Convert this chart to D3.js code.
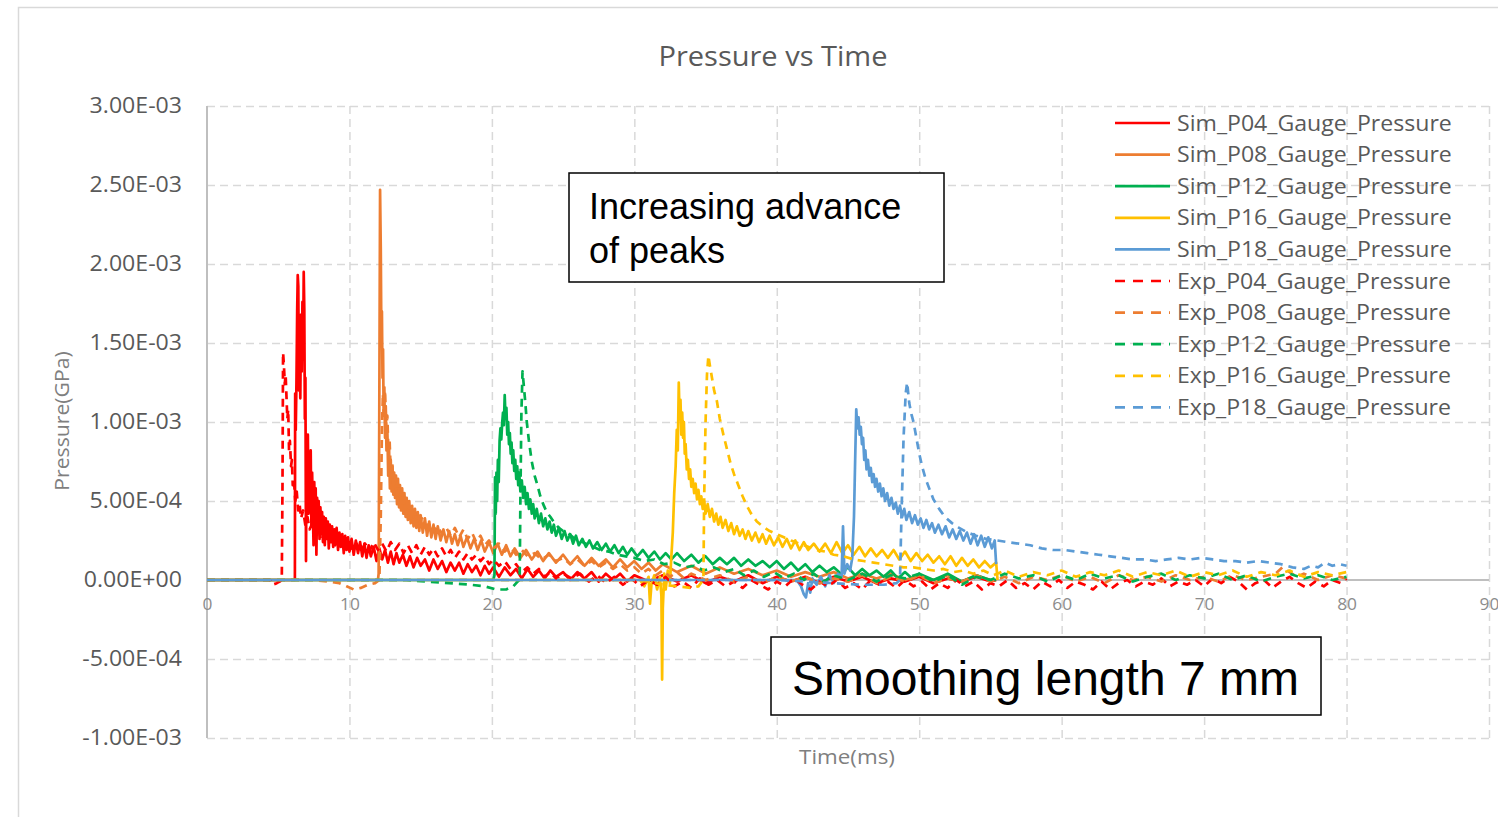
<!DOCTYPE html>
<html><head><meta charset="utf-8">
<script src="https://cdn.jsdelivr.net/npm/d3@7"></script>
<style>body{margin:0;background:#fff;overflow:hidden}svg{display:block}</style>
</head><body>
<svg id="chart" width="1498" height="817"></svg>
<script>
// ---------- DATA (time in ms, pressure in units of 1e-4 GPa) ----------
const VALUE_UNIT = 1e-4;
const xTickValues = [0,10,20,30,40,50,60,70,80,90];
const xTickLabels = ["0","10","20","30","40","50","60","70","80","90"];
const yTickValues = [-1e-3,-5e-4,0,5e-4,1e-3,1.5e-3,2e-3,2.5e-3,3e-3];
const yTickLabels = ["-1.00E-03","-5.00E-04","0.00E+00","5.00E-04","1.00E-03","1.50E-03","2.00E-03","2.50E-03","3.00E-03"];
const seriesNames = ["Sim_P04_Gauge_Pressure","Sim_P08_Gauge_Pressure","Sim_P12_Gauge_Pressure","Sim_P16_Gauge_Pressure","Sim_P18_Gauge_Pressure",
  "Exp_P04_Gauge_Pressure","Exp_P08_Gauge_Pressure","Exp_P12_Gauge_Pressure","Exp_P16_Gauge_Pressure","Exp_P18_Gauge_Pressure"];

const simP04 = [[0,0],[6.1,0],[6.17,0],[6.19,11.8],[6.23,9.5],[6.28,12.5],[6.33,17.0],[6.37,19.3],[6.41,18.6],[6.45,12.0],[6.5,15.5],[6.55,11.5],[6.6,16.8],[6.65,13.2],[6.7,17.6],[6.75,14.5],[6.79,19.5],[6.83,17.2],[6.87,10.2],[6.91,12.8],[6.95,1.2],[6.99,8.8],[7.03,6.0],[7.08,9.2],[7.13,4.2],[7.18,7.6],[7.23,5.0],[7.28,8.2],[7.33,3.4],[7.38,6.8],[7.43,4.4],[7.48,2.2],[7.53,6.2],[7.58,4.0],[7.63,5.8],[7.68,1.6],[7.73,5.2],[7.78,3.2],[7.84,5.0],[7.9,2.6],[7.96,4.6],[8.02,2.9],[8.08,4.3],[8.14,2.4],[8.2,4.0],[8.27,2.2],[8.34,3.9],[8.41,2.6],[8.48,3.7],[8.55,2.0],[8.62,3.5],[8.7,2.4],[8.78,3.4],[8.86,2.1],[8.94,3.2],[9.02,2.3],[9.1,3.3],[9.2,1.9],[9.3,3.0],[9.4,2.1],[9.5,2.9],[9.6,1.7],[9.7,2.8],[9.8,1.9],[9.9,2.7],[10.0,1.8],[10.15,2.6],[10.3,1.6],[10.45,2.5],[10.6,1.7],[10.75,2.4],[10.9,1.5],[11.05,2.3],[11.2,1.4],[11.35,2.2],[11.5,1.5],[11.7,2.1],[11.9,1.2],[12.1,2.0],[12.3,1.3],[12.5,1.9],[12.7,1.1],[12.9,1.8],[13.1,1.0],[13.3,1.7],[13.5,1.1],[13.75,1.6],[14.0,0.9],[14.25,1.5],[14.5,0.8],[14.75,1.4],[15.0,0.9],[15.3,1.3],[15.6,0.6],[15.9,1.3],[16.2,0.7],[16.5,1.2],[16.8,0.5],[17.1,1.1],[17.4,0.6],[17.7,1.1],[18.0,0.4],[18.3,1.0],[18.6,0.5],[18.9,0.9],[19.2,0.3],[19.5,0.9],[19.8,0.4],[20.1,0.8],[20.5,0.2],[20.9,0.8],[21.3,0.3],[21.7,0.7],[22.1,0.1],[22.5,0.7],[22.9,0.2],[23.3,0.6],[23.7,0.1],[24.1,0.6],[24.5,0.2],[25,0.5],[25.5,0.0],[26,0.5],[26.5,0.1],[27,0.5],[27.5,-0.1],[28,0.4],[28.5,0.0],[29,0.4],[29.5,-0.1],[30,0.3],[31,-0.1],[32,0.3],[33,-0.1],[34,0.3],[35,-0.2],[36,0.2],[37,-0.1],[38,0.3],[39,-0.2],[40,0.2],[41,-0.1],[42,0.2],[43,-0.2],[44,0.2],[45,-0.1],[46,0.2],[47,-0.2],[48,0.1],[49,-0.1],[50,0.2],[51,-0.2],[52,0.1],[53,-0.1],[54,0.2],[55,-0.1],[55.4,0]];

const simP08 = [[0,0],[12.0,0],[12.05,0.4],[12.1,12],[12.15,24.7],[12.2,21.0],[12.24,15.5],[12.28,17.0],[12.32,12.8],[12.36,14.6],[12.4,10.5],[12.45,12.2],[12.5,9.0],[12.55,11.0],[12.6,8.2],[12.66,9.6],[12.72,6.6],[12.78,8.4],[12.84,5.8],[12.9,7.6],[12.96,5.6],[13.02,7.2],[13.08,5.4],[13.14,6.8],[13.2,5.2],[13.27,6.6],[13.34,4.8],[13.41,6.4],[13.48,4.6],[13.55,6.0],[13.62,4.4],[13.7,5.8],[13.78,4.2],[13.86,5.5],[13.94,4.0],[14.02,5.2],[14.1,3.8],[14.2,5.0],[14.3,3.6],[14.4,4.7],[14.5,3.4],[14.6,4.5],[14.7,3.3],[14.8,4.3],[14.9,3.1],[15.0,4.1],[15.15,3.0],[15.3,3.9],[15.45,2.8],[15.6,3.7],[15.75,2.7],[15.9,3.5],[16.05,2.6],[16.2,3.4],[16.4,2.5],[16.6,3.2],[16.8,2.4],[17.0,3.1],[17.2,2.3],[17.4,2.9],[17.6,2.2],[17.8,2.8],[18.0,2.1],[18.25,2.7],[18.5,2.0],[18.75,2.6],[19.0,1.9],[19.25,2.5],[19.5,1.8],[19.8,2.4],[20.1,1.7],[20.4,2.3],[20.7,1.6],[21.0,2.2],[21.3,1.5],[21.6,2.0],[22.0,1.4],[22.4,1.9],[22.8,1.3],[23.2,1.8],[23.6,1.2],[24.0,1.7],[24.5,1.1],[25,1.6],[25.5,1.0],[26,1.5],[26.5,0.9],[27,1.4],[27.5,0.9],[28,1.3],[28.5,0.8],[29,1.3],[29.5,0.8],[30,1.2],[30.5,0.7],[31,1.1],[31.5,0.6],[32,1.0],[33,0.5],[34,0.9],[35,0.4],[36,0.8],[37,0.4],[38,0.7],[39,0.3],[40,0.6],[41,0.2],[42,0.5],[43,0.2],[44,0.5],[45,0.1],[46,0.4],[47,0.1],[48,0.4],[49,0.0],[50,0.3],[51,0.0],[52,0.3],[53,-0.1],[54,0.3],[55,0.0],[55.4,0]];

const simP12 = [[0,0],[20.1,0],[20.18,0.3],[20.22,6.5],[20.27,4.2],[20.32,6.8],[20.37,5.0],[20.42,7.6],[20.48,6.2],[20.54,8.8],[20.6,9.6],[20.66,8.9],[20.72,9.9],[20.78,10.6],[20.84,9.8],[20.9,11.7],[20.96,10.2],[21.02,10.9],[21.08,9.2],[21.14,10.0],[21.2,8.6],[21.26,9.3],[21.32,8.0],[21.38,8.7],[21.44,7.4],[21.5,8.2],[21.57,6.9],[21.64,7.6],[21.71,6.4],[21.78,7.2],[21.85,6.0],[21.92,6.8],[22.0,5.6],[22.1,6.3],[22.2,5.2],[22.3,5.9],[22.4,4.8],[22.5,5.5],[22.6,4.5],[22.7,5.1],[22.8,4.2],[22.9,4.8],[23.0,3.9],[23.15,4.5],[23.3,3.6],[23.45,4.2],[23.6,3.4],[23.75,3.9],[23.9,3.2],[24.05,3.7],[24.2,3.0],[24.35,3.5],[24.5,2.8],[24.7,3.3],[24.9,2.6],[25.1,3.1],[25.3,2.5],[25.5,2.9],[25.7,2.3],[25.9,2.8],[26.1,2.2],[26.35,2.6],[26.6,2.1],[26.85,2.5],[27.1,2.0],[27.4,2.4],[27.7,1.9],[28.0,2.3],[28.3,1.8],[28.6,2.2],[28.9,1.7],[29.2,2.1],[29.5,1.6],[29.8,2.0],[30.2,1.5],[30.6,1.9],[31.0,1.4],[31.4,1.8],[31.8,1.3],[32.2,1.7],[32.6,1.3],[33.0,1.7],[33.5,1.2],[34.0,1.6],[34.5,1.1],[35.0,1.5],[35.5,1.0],[36.0,1.4],[36.5,1.0],[37.0,1.4],[37.5,0.9],[38.0,1.3],[38.5,0.9],[39.0,1.2],[39.5,0.8],[40,1.2],[40.5,0.7],[41,1.1],[41.5,0.6],[42,1.0],[42.5,0.5],[43,0.9],[43.5,0.5],[44,0.8],[44.5,0.4],[45,0.8],[45.5,0.3],[46,0.7],[46.5,0.3],[47,0.6],[47.5,0.2],[48,0.6],[48.5,0.1],[49,0.5],[49.5,0.1],[50,0.4],[51,0.0],[52,0.4],[53,-0.1],[54,0.3],[55,0.0],[55.4,0]];

const simP16 = [[0,0],[30.4,0],[30.7,-0.4],[31.0,0.2],[31.1,-1.5],[31.2,-0.3],[31.4,0.3],[31.6,-0.6],[31.8,0.2],[31.9,-1.0],[31.95,-6.3],[32.0,-1.8],[32.1,0.4],[32.2,-0.6],[32.35,0.6],[32.5,-0.2],[32.6,1.5],[32.7,3.0],[32.8,5.5],[32.9,7.2],[32.98,9.5],[33.05,8.2],[33.12,12.5],[33.18,10.2],[33.24,11.4],[33.3,9.2],[33.36,10.6],[33.42,9.0],[33.48,10.0],[33.54,8.0],[33.6,8.6],[33.68,7.0],[33.76,7.6],[33.84,6.4],[33.92,7.0],[34.0,5.9],[34.1,6.4],[34.2,5.5],[34.3,6.1],[34.4,5.1],[34.5,5.7],[34.6,4.8],[34.7,5.3],[34.8,4.5],[34.9,5.0],[35.0,4.2],[35.15,4.8],[35.3,4.0],[35.45,4.5],[35.6,3.7],[35.75,4.2],[35.9,3.5],[36.05,4.0],[36.2,3.3],[36.4,3.8],[36.6,3.1],[36.8,3.6],[37.0,2.9],[37.2,3.4],[37.4,2.8],[37.6,3.2],[37.8,2.6],[38.0,3.1],[38.25,2.5],[38.5,3.0],[38.75,2.4],[39.0,2.9],[39.25,2.3],[39.5,2.8],[39.8,2.2],[40.1,2.7],[40.4,2.1],[40.7,2.6],[41.0,2.0],[41.3,2.5],[41.6,1.9],[41.9,2.4],[42.2,1.9],[42.6,2.3],[43.0,1.8],[43.4,2.3],[43.8,1.7],[44.2,2.4],[44.6,1.7],[45.0,2.2],[45.4,1.6],[45.8,2.1],[46.2,1.5],[46.6,2.0],[47.0,1.5],[47.4,1.9],[47.8,1.4],[48.2,1.9],[48.6,1.3],[49.0,1.8],[49.4,1.2],[49.8,1.7],[50.2,1.2],[50.6,1.6],[51.0,1.1],[51.4,1.5],[51.8,1.0],[52.2,1.5],[52.6,0.9],[53.0,1.4],[53.4,0.9],[53.8,1.3],[54.2,0.8],[54.6,1.2],[55.0,0.8],[55.4,1.1],[55.5,0]];

const simP18 = [[0,0],[41.4,0],[41.7,-0.4],[41.9,-0.9],[42.05,-1.1],[42.2,-0.2],[42.35,-0.8],[42.5,0.1],[42.8,-0.3],[43.1,0.2],[43.4,-0.4],[43.7,0.3],[44.0,-0.2],[44.3,0.4],[44.55,0.2],[44.65,3.4],[44.75,0.4],[44.95,1.0],[45.15,0.6],[45.3,1.4],[45.42,4.0],[45.5,7.5],[45.58,10.8],[45.66,9.6],[45.74,10.3],[45.82,9.2],[45.9,9.7],[45.98,8.6],[46.06,9.0],[46.14,7.6],[46.22,8.2],[46.3,7.0],[46.4,7.6],[46.5,6.6],[46.6,7.1],[46.7,6.2],[46.8,6.7],[46.9,5.9],[47.0,6.4],[47.12,5.6],[47.24,6.1],[47.36,5.3],[47.48,5.8],[47.6,5.0],[47.75,5.5],[47.9,4.7],[48.05,5.2],[48.2,4.5],[48.35,4.9],[48.5,4.2],[48.65,4.7],[48.8,4.0],[48.95,4.5],[49.1,3.8],[49.3,4.3],[49.5,3.6],[49.7,4.1],[49.9,3.5],[50.1,3.9],[50.3,3.3],[50.5,3.8],[50.7,3.2],[50.9,3.6],[51.1,3.0],[51.35,3.5],[51.6,2.9],[51.85,3.4],[52.1,2.7],[52.35,3.2],[52.6,2.6],[52.85,3.1],[53.1,2.5],[53.35,3.0],[53.6,2.3],[53.85,2.9],[54.1,2.2],[54.35,2.8],[54.6,2.1],[54.85,2.7],[55.1,2.0],[55.3,2.5],[55.4,1.0]];

const expP04 = [[0,0],[4.4,0],[4.6,-0.3],[4.9,-0.2],[5.1,-0.1],[5.25,0],[5.3,6],[5.34,14.4],[5.4,13.6],[5.46,12.4],[5.52,13.0],[5.58,11.6],[5.64,10.2],[5.7,10.8],[5.76,8.2],[5.82,8.8],[5.9,7.2],[5.96,7.6],[6.02,6.0],[6.1,6.4],[6.2,5.0],[6.3,5.6],[6.4,4.4],[6.5,4.8],[6.6,3.9],[6.75,4.4],[6.9,3.5],[7.05,4.0],[7.2,3.2],[7.4,3.6],[7.6,2.9],[7.8,3.3],[8.0,2.6],[8.25,3.0],[8.5,2.4],[8.75,2.8],[9.0,2.2],[9.3,2.6],[9.6,2.0],[9.9,2.4],[10.2,1.9],[10.5,2.3],[10.8,1.8],[11.1,2.3],[11.4,1.8],[11.7,2.4],[12.0,1.9],[12.3,2.3],[12.6,1.8],[12.9,2.4],[13.2,1.9],[13.5,2.3],[13.8,1.7],[14.1,2.2],[14.4,1.7],[14.7,2.2],[15.0,1.6],[15.3,2.1],[15.6,1.6],[15.9,2.0],[16.2,1.5],[16.5,2.0],[16.8,1.5],[17.1,1.9],[17.4,1.4],[17.7,1.8],[18.0,1.3],[18.3,1.7],[18.6,1.3],[18.9,1.6],[19.2,1.2],[19.5,1.5],[19.8,1.0],[20.1,1.3],[20.5,0.9],[20.9,1.2],[21.3,0.7],[21.7,1.0],[22.1,0.5],[22.5,0.8],[22.9,0.4],[23.3,0.7],[23.7,0.2],[24.1,0.5],[24.5,0.1],[25,0.4],[25.6,0.1],[26.2,0.4],[26.8,-0.1],[27.4,0.3],[28,-0.2],[28.6,0.2],[29.2,-0.3],[29.8,0.1],[30.4,-0.4],[31,0],[31.6,-0.3],[32.2,0.2],[32.8,-0.4],[33.4,-0.1],[34,-0.5],[34.6,0.1],[35.2,-0.3],[35.8,0],[36.4,-0.4],[37,-0.1],[37.6,-0.5],[38.2,0],[38.8,-0.3],[39.4,-0.6],[40,-0.1],[40.6,-0.4],[41.2,0.1],[41.8,-0.3],[42.4,-0.6],[43,-0.1],[43.6,-0.4],[44.2,0],[44.8,-0.5],[45.4,-0.2],[46,-0.6],[46.6,0],[47.2,-0.3],[47.8,-0.1],[48.4,-0.5],[49,0],[49.6,-0.4],[50.2,-0.1],[50.8,-0.6],[51.4,-0.2],[52,-0.5],[52.6,0],[53.2,-0.4],[53.8,-0.1],[54.4,-0.6],[55,-0.2],[55.6,-0.4],[56.2,0],[56.8,-0.5],[57.4,-0.2],[58,-0.6],[58.6,-0.1],[59.2,-0.4],[59.8,0],[60.4,-0.5],[61,-0.1],[61.6,-0.3],[62.2,-0.6],[62.8,-0.1],[63.4,-0.6],[64,-0.2],[64.6,0],[65.2,-0.4],[65.8,-0.1],[66.4,-0.3],[67,0.1],[67.6,-0.4],[68.2,-0.1],[68.8,-0.3],[69.4,0],[70,-0.4],[70.6,0.1],[71.2,-0.2],[71.8,0.2],[72.4,-0.1],[73,-0.6],[73.6,-0.2],[74.2,0],[74.8,-0.5],[75.4,-0.1],[76,0.2],[76.6,-0.2],[77.2,-0.5],[77.8,-0.1],[78.4,-0.4],[79,0],[79.6,-0.2],[80,0.1]];

const expP08 = [[0,0],[7.5,0],[8.5,-0.1],[9.3,-0.2],[9.8,-0.4],[10.3,-0.6],[10.8,-0.5],[11.3,-0.3],[11.8,-0.2],[12.1,0],[12.2,4],[12.28,9.5],[12.35,11.8],[12.42,10.2],[12.5,12.0],[12.58,9.6],[12.66,10.4],[12.74,8.0],[12.82,8.8],[12.9,6.8],[13.0,7.4],[13.1,5.8],[13.2,6.4],[13.35,5.2],[13.5,5.8],[13.65,4.6],[13.8,5.0],[14.0,4.2],[14.2,4.6],[14.4,3.8],[14.6,4.2],[14.85,3.5],[15.1,3.9],[15.35,3.3],[15.6,3.6],[15.9,3.1],[16.2,3.4],[16.5,2.9],[16.8,3.3],[17.1,2.8],[17.4,3.3],[17.7,2.7],[18.0,3.2],[18.3,2.6],[18.6,3.0],[18.9,2.4],[19.2,2.8],[19.5,2.2],[19.8,2.5],[20.1,2.0],[20.5,2.3],[20.9,1.8],[21.3,2.1],[21.7,1.6],[22.1,1.9],[22.5,1.5],[23,1.7],[23.5,1.3],[24,1.6],[24.5,1.2],[25,1.4],[25.5,1.0],[26,1.3],[26.5,0.9],[27,1.2],[27.5,0.8],[28,1.1],[28.5,0.7],[29,1.0],[29.5,0.6],[30,0.8],[30.5,0.4],[31,0.7],[31.5,0.3],[32,0.6],[32.5,0.2],[33,0.5],[33.5,0.1],[34,0.4],[35,0.0],[36,0.3],[37,-0.1],[38,0.2],[39,-0.2],[40,0.2],[41,-0.1],[42,0.2],[43,-0.2],[44,0.1],[45,-0.1],[46,0.3],[47,-0.2],[48,0.2],[49,-0.1],[50,0.3],[51,-0.2],[52,0.1],[53,-0.1],[54,0.3],[55,-0.1],[56,0.2],[57,-0.2],[58,0.2],[59,0.0],[60,0.3],[61,-0.1],[62,0.2],[63,-0.2],[64,0.3],[65,0.0],[66,0.2],[67,-0.1],[68,0.3],[69,0.0],[70,0.2],[71,-0.1],[72,0.3],[73,0.0],[74,0.2],[75,0.4],[75.5,0.8],[76,0.5],[76.5,0.2],[77,0.4],[78,0.0],[79,0.3],[80,0.1]];

const expP12 = [[0,0],[14,0],[15.5,-0.1],[17,-0.2],[18.5,-0.3],[19.5,-0.4],[20.3,-0.6],[21.0,-0.6],[21.5,-0.4],[21.8,-0.1],[21.95,0],[22.0,5],[22.07,10.5],[22.15,13.2],[22.25,12.2],[22.35,11.2],[22.45,10.0],[22.6,8.8],[22.8,7.5],[23.0,6.6],[23.2,6.0],[23.4,5.3],[23.6,4.8],[23.85,4.3],[24.1,4.0],[24.4,3.6],[24.7,3.3],[25.0,3.1],[25.3,3.0],[25.7,2.7],[26.1,2.5],[26.6,2.3],[27.1,2.1],[27.6,1.9],[28.2,1.8],[28.8,1.6],[29.4,1.5],[30,1.4],[30.7,1.2],[31.4,1.3],[32.1,1.0],[32.8,1.1],[33.5,0.8],[34.2,0.9],[34.9,0.6],[35.6,0.8],[36.3,0.5],[37,0.7],[37.7,0.3],[38.4,0.6],[39.1,0.2],[39.8,0.5],[40.5,0.1],[41.2,0.4],[41.9,0.0],[42.6,0.4],[43.3,-0.1],[44,0.3],[45,0.0],[46,0.4],[47,-0.1],[48,0.3],[49,0.1],[50,0.4],[51,-0.1],[52,0.3],[53,-0.3],[54,0.2],[55,0.0],[56,0.4],[57,0.1],[58,0.3],[59,-0.1],[60,0.3],[61,0.0],[62,0.4],[63,0.1],[64,0.3],[65,-0.1],[66,0.2],[67,0.4],[68,0.0],[69,0.3],[70,0.1],[71,0.4],[72,0.0],[73,0.3],[74,-0.1],[75,0.2],[76,0.4],[77,0.1],[78,0.3],[79,0.0],[80,0.2]];

const expP16 = [[0,0],[30,0],[31,-0.1],[32,-0.3],[33,-0.4],[34,-0.5],[34.5,-0.4],[34.75,-0.1],[34.85,0],[34.9,5],[35.0,10],[35.1,13.0],[35.2,14.2],[35.3,13.6],[35.45,12.8],[35.6,12.0],[35.8,11.3],[36.0,10.2],[36.25,9.2],[36.5,8.3],[36.75,7.4],[37.0,6.7],[37.3,6.0],[37.6,5.3],[37.9,4.7],[38.2,4.2],[38.6,3.7],[39.0,3.4],[39.5,3.1],[40.0,2.9],[40.5,2.7],[41,2.5],[41.6,2.3],[42.2,2.1],[42.8,1.9],[43.4,1.8],[44,1.6],[44.7,1.5],[45.4,1.3],[46.1,1.2],[46.8,1.1],[47.5,1.0],[48.2,0.9],[48.9,0.8],[49.6,0.8],[50.3,0.7],[51,0.6],[51.7,0.7],[52.4,0.5],[53.1,0.6],[53.8,0.4],[54.5,0.6],[55.2,0.3],[56,0.6],[57,0.2],[58,0.5],[59,0.3],[60,0.6],[61,0.2],[62,0.5],[63,0.3],[64,0.6],[65,0.2],[66,0.5],[67,0.3],[68,0.6],[69,0.2],[70,0.5],[71,0.3],[72,0.6],[73,0.2],[74,0.5],[75,0.3],[76,0.6],[77,0.2],[78,0.5],[79,0.3],[80,0.5]];

const expP18 = [[0,0],[40,0],[42,-0.1],[44,-0.2],[46,-0.3],[47.5,-0.3],[48.4,-0.2],[48.65,0],[48.75,4],[48.9,9],[49.05,11.8],[49.15,12.5],[49.3,11.2],[49.45,10.5],[49.6,10.0],[49.8,9.0],[50.0,8.0],[50.2,7.2],[50.45,6.4],[50.7,5.8],[51.0,5.1],[51.4,4.5],[51.8,4.0],[52.3,3.6],[52.8,3.3],[53.4,3.0],[54,2.8],[54.7,2.6],[55.5,2.5],[56.2,2.4],[57,2.3],[57.8,2.2],[58.6,2.0],[59.4,1.9],[60.2,1.9],[61,1.8],[61.8,1.7],[62.6,1.6],[63.4,1.5],[64.2,1.4],[65,1.3],[65.8,1.3],[66.6,1.2],[67.4,1.3],[68.2,1.4],[69,1.3],[69.8,1.4],[70.6,1.3],[71.4,1.2],[72.2,1.2],[73,1.1],[73.8,1.2],[74.6,1.1],[75.4,1.0],[76.2,0.8],[77,0.7],[77.5,0.9],[78,0.8],[78.5,1.1],[79,0.9],[79.5,1.0],[80,0.9]];

const seriesData = [simP04, simP08, simP12, simP16, simP18, expP04, expP08, expP12, expP16, expP18];

// ---------- STYLE ----------
const seriesColors = ["#FF0000","#ED7D31","#00B050","#FFC000","#5B9BD5","#FF0000","#ED7D31","#00B050","#FFC000","#5B9BD5"];
const seriesDashed = [false,false,false,false,false,true,true,true,true,true];

const svg = d3.select("#chart");
const plot = {left:207, right:1489, top:106, bottom:738};
const x = d3.scaleLinear().domain([0,90]).range([plot.left, plot.right]);
const y = d3.scaleLinear().domain([-1e-3,3e-3]).range([plot.bottom, plot.top]);
const GRID = "#d9d9d9", AXIS = "#bfbfbf";

function stretch(sel, k){
  sel.each(function(){
    const w = this.getComputedTextLength();
    this.setAttribute("textLength", (w*k).toFixed(1));
    this.setAttribute("lengthAdjust","spacingAndGlyphs");
  });
}

// outer chart frame
svg.append("rect").attr("x",18.5).attr("y",7.5).attr("width",1500).attr("height",830)
  .attr("fill","#fff").attr("stroke","#d9d9d9").attr("stroke-width",1.5);

// gridlines
const gy = svg.append("g").attr("transform",`translate(${plot.left},0)`)
  .call(d3.axisLeft(y).tickValues(yTickValues.filter(v=>v!==0)).tickSize(-(plot.right-plot.left)).tickFormat(""));
gy.select(".domain").remove();
gy.selectAll("line").attr("stroke",GRID).attr("stroke-width",1.5).attr("stroke-dasharray","8,5");
const gx = svg.append("g").attr("transform",`translate(0,${plot.bottom})`)
  .call(d3.axisBottom(x).tickValues(xTickValues.filter(v=>v!==0)).tickSize(-(plot.bottom-plot.top)).tickFormat(""));
gx.select(".domain").remove();
gx.selectAll("line").attr("stroke",GRID).attr("stroke-width",1.5).attr("stroke-dasharray","8,5");

// axis lines
svg.append("line").attr("x1",plot.left).attr("x2",plot.left).attr("y1",plot.top).attr("y2",plot.bottom)
  .attr("stroke",AXIS).attr("stroke-width",2);
svg.append("line").attr("x1",plot.left).attr("x2",plot.right).attr("y1",y(0)).attr("y2",y(0))
  .attr("stroke",AXIS).attr("stroke-width",2);

// y tick labels
const ay = svg.append("g").attr("transform",`translate(${plot.left},0)`)
  .call(d3.axisLeft(y).tickValues(yTickValues).tickSize(0).tickPadding(25).tickFormat((d,i)=>yTickLabels[i]));
ay.select(".domain").remove();
ay.selectAll("text").attr("font-family","'Open Sans', sans-serif").attr("font-size",21).attr("fill","#595959").attr("dy","0.33em");
stretch(ay.selectAll("text"), 1.1);

// x tick labels (on zero line)
const ax = svg.append("g").attr("transform",`translate(0,${y(0)})`)
  .call(d3.axisBottom(x).tickValues(xTickValues).tickSize(0).tickPadding(19).tickFormat((d,i)=>xTickLabels[i]));
ax.select(".domain").remove();
ax.selectAll("text").attr("font-family","'Open Sans', sans-serif").attr("font-size",16).attr("fill","#8c8c8c");
stretch(ax.selectAll("text"), 1.08);

// series lines
const line = d3.line().x(d=>x(d[0])).y(d=>y(d[1]*VALUE_UNIT));
const gLines = svg.append("g");
seriesData.forEach((data,i)=>{
  gLines.append("path").datum(data).attr("d",line)
    .attr("fill","none").attr("stroke",seriesColors[i]).attr("stroke-width",2.7)
    .attr("stroke-linejoin","round")
    .attr("stroke-dasharray", seriesDashed[i] ? "8,6" : null);
});

// title
const title = svg.append("text").attr("x",773).attr("y",66).attr("text-anchor","middle")
  .attr("font-family","'Open Sans', sans-serif").attr("font-size",27).attr("fill","#595959").text("Pressure vs Time");
stretch(title, 1.075);

// axis titles
const yt = svg.append("text").attr("transform","translate(69,421) rotate(-90)").attr("text-anchor","middle")
  .attr("font-family","'Open Sans', sans-serif").attr("font-size",20).attr("fill","#7f7f7f").text("Pressure(GPa)");
stretch(yt, 1.06);
const xt = svg.append("text").attr("x",847).attr("y",764).attr("text-anchor","middle")
  .attr("font-family","'Open Sans', sans-serif").attr("font-size",20).attr("fill","#7f7f7f").text("Time(ms)");
stretch(xt, 1.12);

// legend
const legend = svg.append("g");
seriesNames.forEach((name,i)=>{
  const cy = 123 + i*31.6;
  legend.append("line").attr("x1",1115).attr("x2",1170).attr("y1",cy).attr("y2",cy)
    .attr("stroke",seriesColors[i]).attr("stroke-width",2.7)
    .attr("stroke-dasharray", seriesDashed[i] ? "10,8" : null);
  const t = legend.append("text").attr("x",1177).attr("y",cy+7.5)
    .attr("font-family","'Open Sans', sans-serif").attr("font-size",22).attr("fill","#595959").text(name);
  stretch(t, 1.05);
});

// annotation boxes
const ann1 = svg.append("g");
ann1.append("rect").attr("x",569).attr("y",173).attr("width",375).attr("height",109)
  .attr("fill","#fff").attr("stroke","#000").attr("stroke-width",1.5);
ann1.append("text").attr("x",589).attr("y",219).attr("font-family","'Liberation Sans', Arial, sans-serif")
  .attr("font-size",36).attr("fill","#000").text("Increasing advance");
ann1.append("text").attr("x",589).attr("y",263).attr("font-family","'Liberation Sans', Arial, sans-serif")
  .attr("font-size",36).attr("fill","#000").text("of peaks");

const ann2 = svg.append("g");
ann2.append("rect").attr("x",771).attr("y",637).attr("width",550).attr("height",78)
  .attr("fill","#fff").attr("stroke","#000").attr("stroke-width",1.5);
ann2.append("text").attr("x",792).attr("y",695).attr("font-family","'Liberation Sans', Arial, sans-serif")
  .attr("font-size",48).attr("fill","#000").text("Smoothing length 7 mm");
</script>
</body></html>
